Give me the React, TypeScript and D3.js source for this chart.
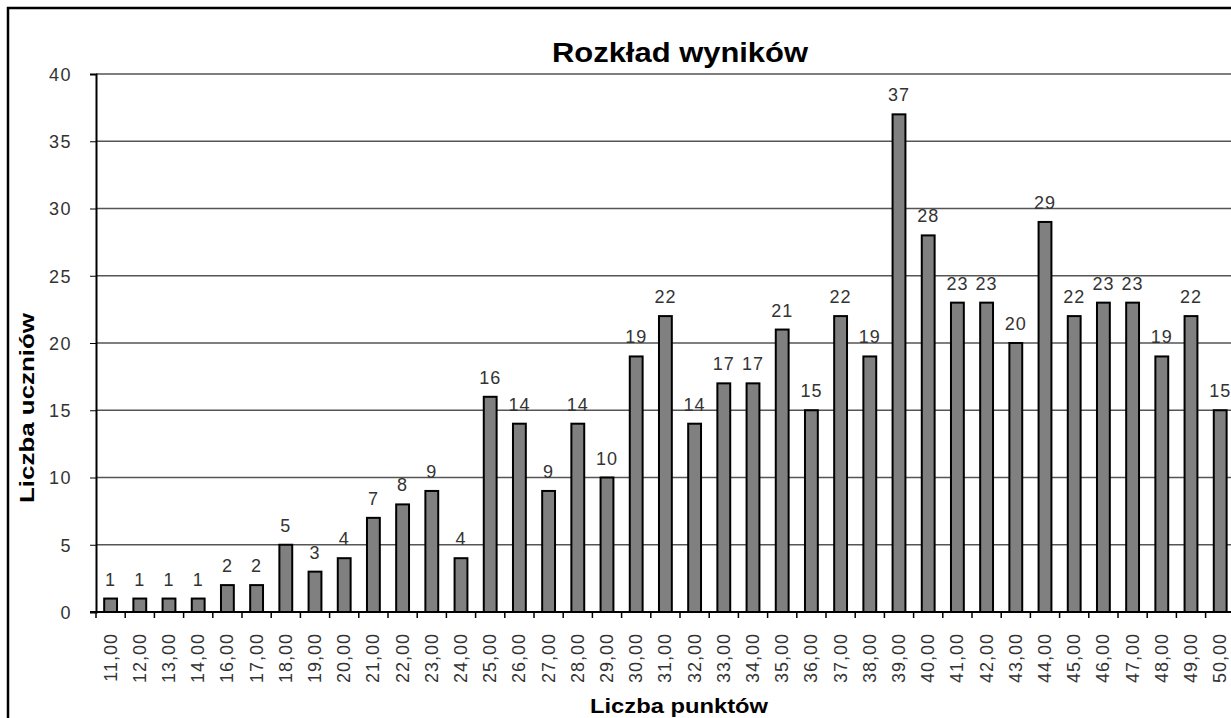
import React, { useEffect, useRef } from 'react';
import * as d3 from 'd3';

const categories = [
  '11,00', '12,00', '13,00', '14,00', '16,00', '17,00', '18,00', '19,00', '20,00', '21,00',
  '22,00', '23,00', '24,00', '25,00', '26,00', '27,00', '28,00', '29,00', '30,00', '31,00',
  '32,00', '33,00', '34,00', '35,00', '36,00', '37,00', '38,00', '39,00', '40,00', '41,00',
  '42,00', '43,00', '44,00', '45,00', '46,00', '47,00', '48,00', '49,00', '50,00',
];
const counts = [
  1, 1, 1, 1, 2, 2, 5, 3, 4, 7,
  8, 9, 4, 16, 14, 9, 14, 10, 19, 22,
  14, 17, 17, 21, 15, 22, 19, 37, 28, 23,
  23, 20, 29, 22, 23, 23, 19, 22, 15,
];
const yTicks = [0, 5, 10, 15, 20, 25, 30, 35, 40];

const title = 'Rozkład wyników';
const xTitle = 'Liczba punktów';
const yTitle = 'Liczba uczniów';

const W = 1231;
const H = 718;
const FONT = 'Arial, "Liberation Sans", sans-serif';

const App = () => {
  const ref = useRef<SVGSVGElement>(null);

  useEffect(() => {
    if (!ref.current) return;
    const svg = d3.select(ref.current);
    svg.selectAll('*').remove();

    const left = 96;
    const top = 74;
    const bottom = 612;
    const step = 29.2;
    const right = left + step * categories.length;

    const x = d3.scaleBand().domain(categories).range([left, right]).paddingInner(0.56).paddingOuter(0.28);
    const y = d3.scaleLinear().domain([0, 40]).range([bottom, top]);

    svg.append('rect').attr('width', W).attr('height', H).attr('fill', '#fff');

    // gridlines
    svg
      .append('g')
      .selectAll('line')
      .data(yTicks.filter((t) => t > 0))
      .join('line')
      .attr('x1', left)
      .attr('x2', W)
      .attr('y1', (d) => y(d))
      .attr('y2', (d) => y(d))
      .attr('stroke', '#555')
      .attr('stroke-width', 1.4);

    // bars
    svg
      .append('g')
      .selectAll('rect')
      .data(counts)
      .join('rect')
      .attr('x', (_, i) => x(categories[i])!)
      .attr('y', (d) => y(d))
      .attr('width', x.bandwidth())
      .attr('height', (d) => y(0) - y(d))
      .attr('fill', '#808080')
      .attr('stroke', '#000')
      .attr('stroke-width', 2);

    // value labels
    svg
      .append('g')
      .selectAll('text')
      .data(counts)
      .join('text')
      .attr('x', (_, i) => x(categories[i])! + x.bandwidth() / 2)
      .attr('y', (d) => y(d) - 13)
      .attr('text-anchor', 'middle')
      .attr('font-family', FONT)
      .attr('font-size', 18)
      .attr('letter-spacing', 1)
      .attr('fill', '#333')
      .text((d) => d);

    // y axis
    const yAxis = svg
      .append('g')
      .attr('transform', `translate(${left},0)`)
      .call(d3.axisLeft(y).tickValues(yTicks).tickSize(6).tickPadding(18));
    yAxis.select('.domain').attr('stroke', '#000').attr('stroke-width', 2);
    yAxis.selectAll('line').attr('stroke', '#000');
    yAxis
      .selectAll('text')
      .attr('font-family', FONT)
      .attr('font-size', 18)
      .attr('letter-spacing', 1.5)
      .attr('fill', '#333')
      .attr('dy', '0.35em');

    // x axis
    svg
      .append('line')
      .attr('x1', left - 6)
      .attr('x2', W)
      .attr('y1', bottom)
      .attr('y2', bottom)
      .attr('stroke', '#000')
      .attr('stroke-width', 2);
    svg
      .append('g')
      .selectAll('line')
      .data(d3.range(categories.length + 1))
      .join('line')
      .attr('x1', (i) => left + i * step)
      .attr('x2', (i) => left + i * step)
      .attr('y1', bottom)
      .attr('y2', bottom + 6)
      .attr('stroke', '#000')
      .attr('stroke-width', 1.5);

    svg
      .append('g')
      .selectAll('text')
      .data(categories)
      .join('text')
      .attr('transform', (d) => `translate(${x(d)! + x.bandwidth() / 2 + 6},${bottom + 21}) rotate(-90)`)
      .attr('text-anchor', 'end')
      .attr('font-family', FONT)
      .attr('font-size', 18)
      .attr('letter-spacing', 1)
      .attr('fill', '#333')
      .text((d) => d);

    // titles
    svg
      .append('text')
      .attr('x', 680)
      .attr('y', 62)
      .attr('text-anchor', 'middle')
      .attr('font-family', FONT)
      .attr('font-size', 27)
      .attr('font-weight', 'bold')
      .attr('textLength', 256)
      .attr('lengthAdjust', 'spacingAndGlyphs')
      .text(title);

    svg
      .append('text')
      .attr('x', 679)
      .attr('y', 713)
      .attr('text-anchor', 'middle')
      .attr('font-family', FONT)
      .attr('font-size', 21)
      .attr('font-weight', 'bold')
      .attr('textLength', 178)
      .attr('lengthAdjust', 'spacingAndGlyphs')
      .text(xTitle);

    svg
      .append('text')
      .attr('transform', `translate(34,408) rotate(-90)`)
      .attr('text-anchor', 'middle')
      .attr('font-family', FONT)
      .attr('font-size', 21)
      .attr('font-weight', 'bold')
      .attr('textLength', 190)
      .attr('lengthAdjust', 'spacingAndGlyphs')
      .text(yTitle);

    // outer frame (cut off on right and bottom)
    svg
      .append('path')
      .attr('d', `M8,${H} V8 H${W}`)
      .attr('fill', 'none')
      .attr('stroke', '#000')
      .attr('stroke-width', 2.5);
  }, []);

  return (
    <div style={{ position: 'absolute', left: 0, top: 0 }}>
      <svg ref={ref} width={W} height={H} style={{ display: 'block' }} />
    </div>
  );
};

export default App;
